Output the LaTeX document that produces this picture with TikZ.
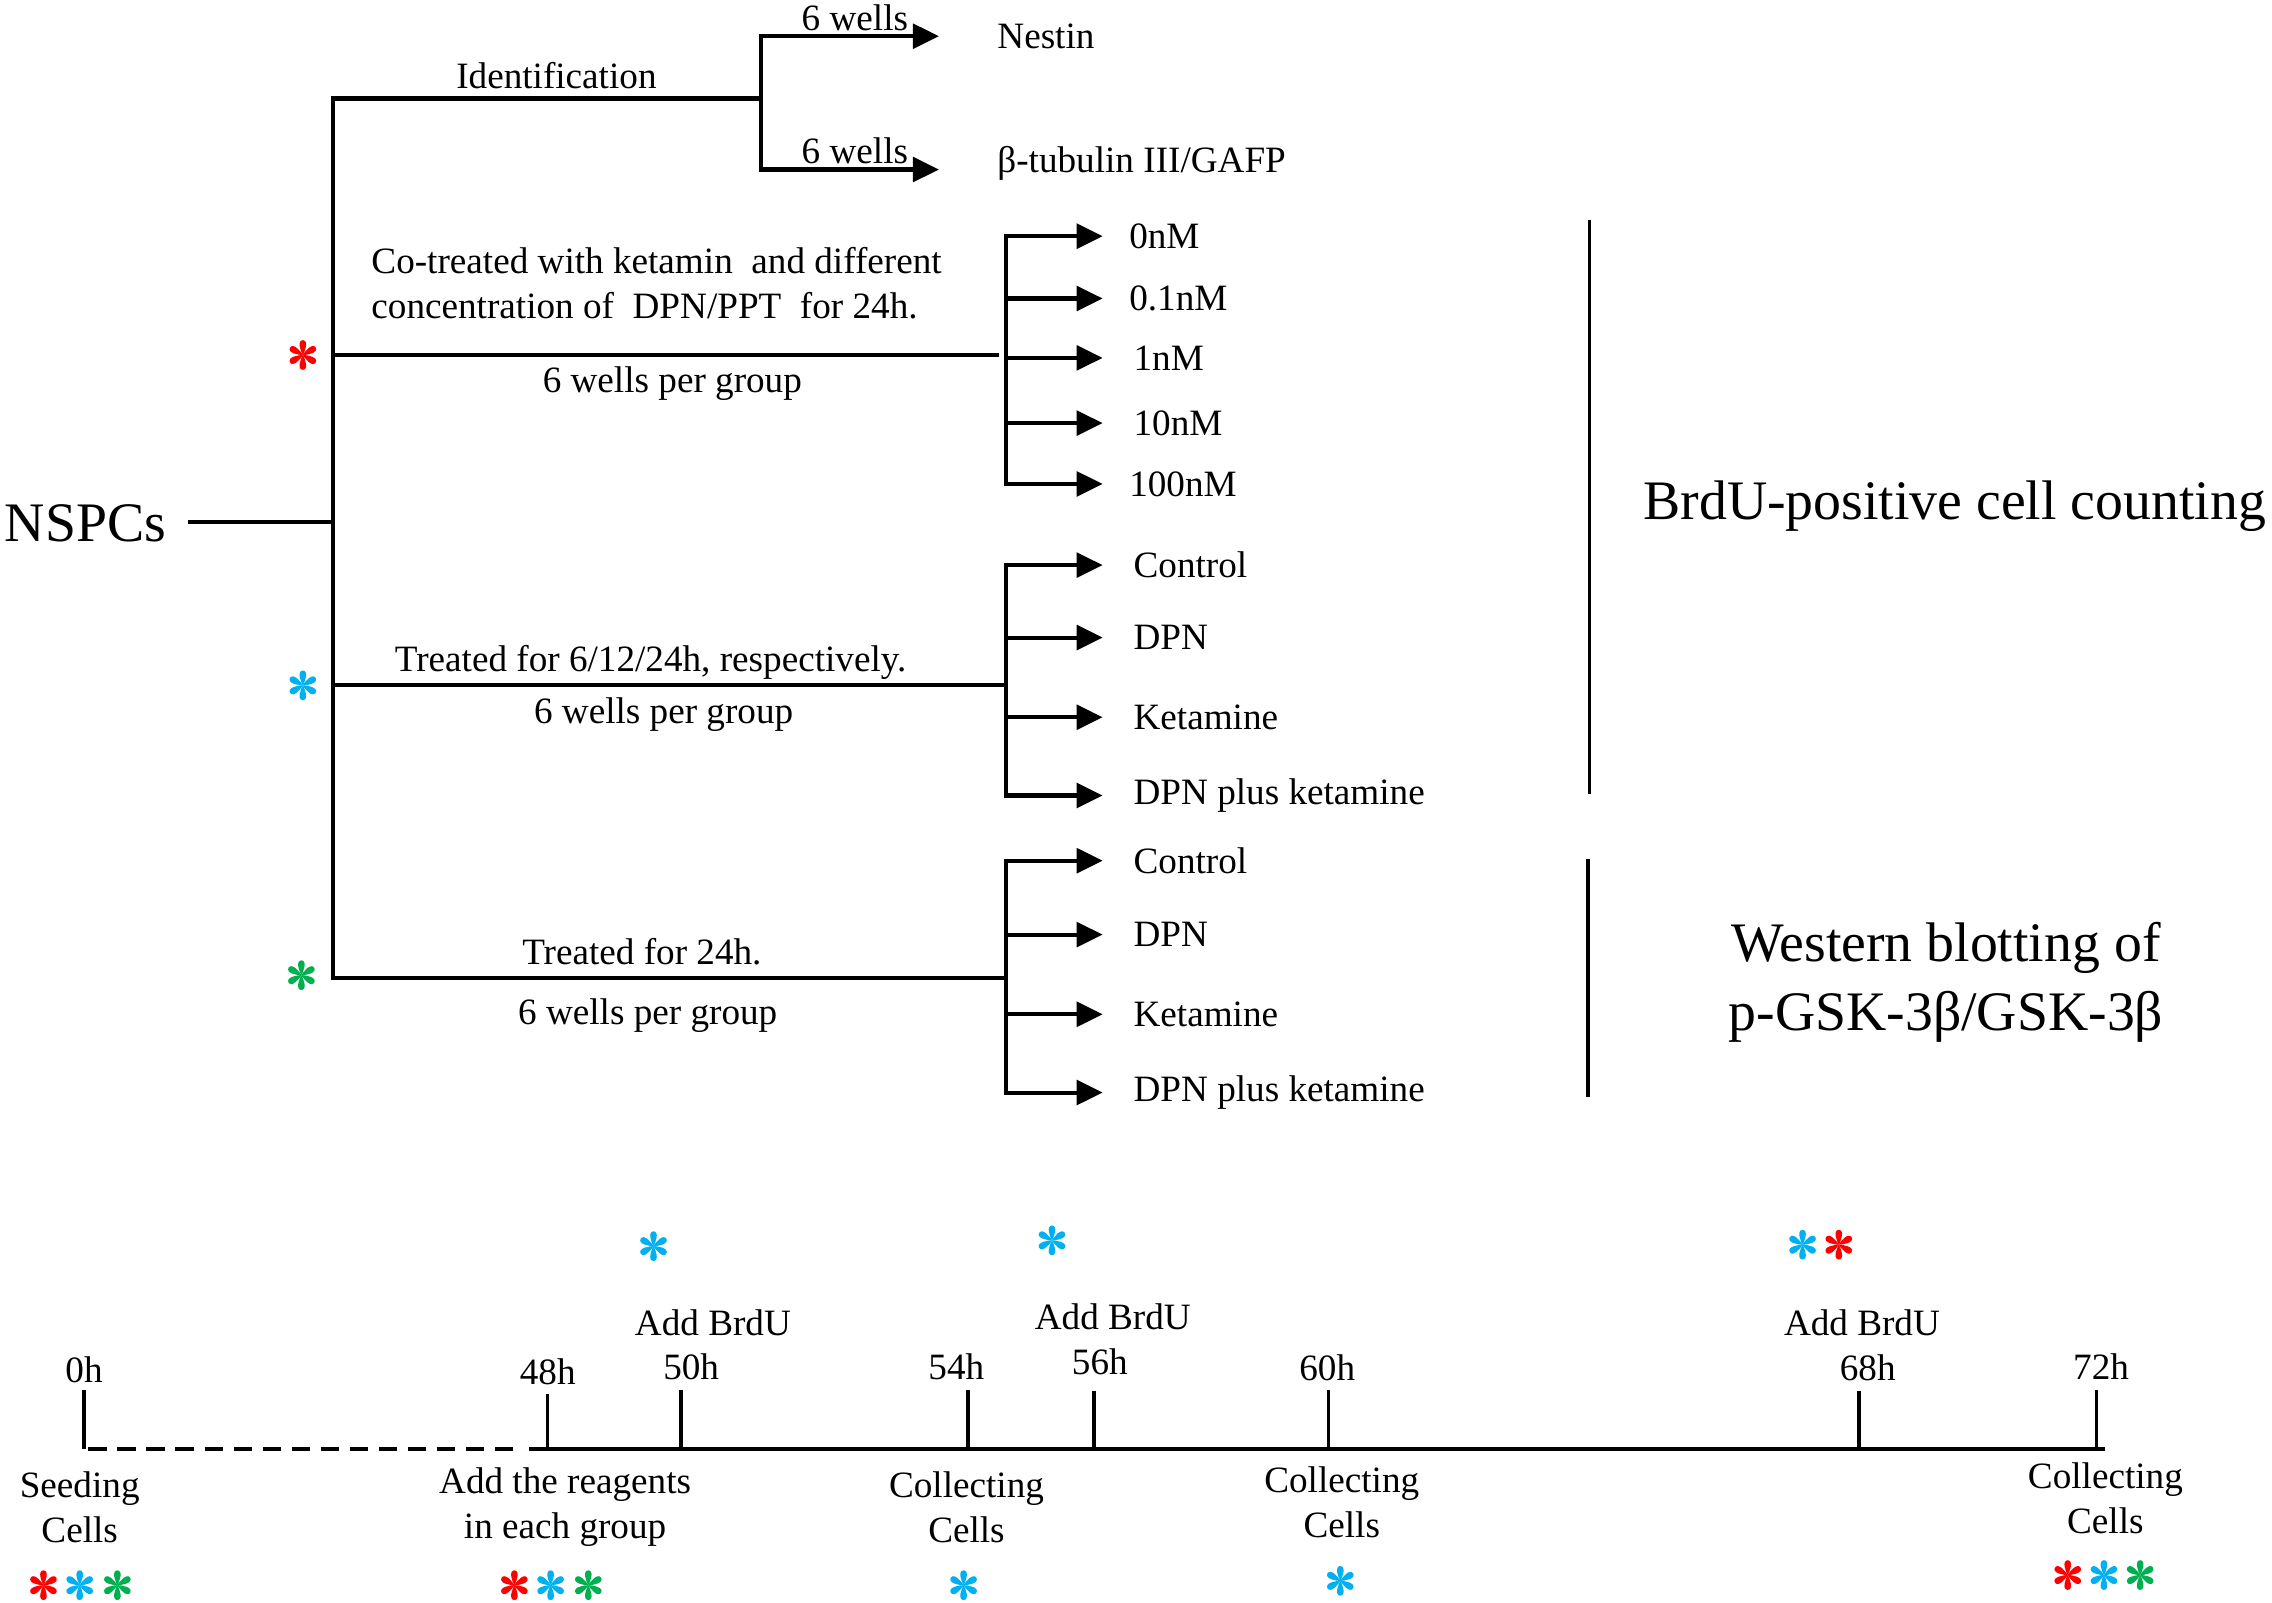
\documentclass[tikz,border=0pt]{standalone}
\usepackage{fontspec}
\setmainfont{Liberation Serif}
\usetikzlibrary{arrows.meta}
\definecolor{astred}{HTML}{FF0000}
\definecolor{astblue}{HTML}{00B0F0}
\definecolor{astgreen}{HTML}{00B050}
\newcommand{\smalltxt}{\fontsize{14.6}{17.6}\selectfont}
\newcommand{\bigtxt}{\fontsize{21.9}{27.2}\selectfont}
\tikzset{
	tree/.style={line width=1.6pt, line cap=rect},
	arr/.style={line width=1.6pt, -{Triangle[length=0.36cm, width=0.34cm]}},
	lbl/.style={font=\smalltxt, inner sep=0pt},
	tick/.style={line width=1.3pt},
	petals/.pic={
		\foreach \a in {0,60,...,300}
			\fill[rotate=\a] (0,0) .. controls (-0.03,0.05) and (-0.085,0.2) .. (0,0.205) .. controls (0.085,0.2) and (0.03,0.05) .. (0,0);
	},
}
\begin{document}
\begin{tikzpicture}
	\useasboundingbox (0,0) rectangle (31.36,-22.12);
	% tree
	\node[font=\bigtxt, inner sep=0pt] (nspcs) at (1.18,-7.22) {NSPCs};
	\coordinate (root) at (4.6,-7.2);
	\coordinate (br1) at (4.6,-1.36);
	\coordinate (br2) at (4.6,-4.9);
	\coordinate (br3) at (4.6,-9.46);
	\coordinate (br4) at (4.6,-13.5);
	\draw[tree] ([xshift=0.32cm]nspcs.east |- root) -- (root);
	\draw[tree] (br1) -- (br4);
	% identification
	\coordinate (id) at (10.5,-1.36);
	\coordinate (idtop) at (10.5,-0.5);
	\coordinate (idbot) at (10.5,-2.34);
	\coordinate (tipid) at (12.96,0);
	\draw[tree] (br1) -- (id);
	\draw[tree] (idtop) -- (idbot);
	\node[lbl] (ident) at (7.68,-1.04) {Identification};
	\node[lbl] (w6a) at (11.8,-0.24) {6 wells};
	\node[lbl] (w6b) at (11.8,-2.08) {6 wells};
	\node[lbl, anchor=west] (nestin) at (13.76,-0.5) {Nestin};
	\node[lbl, anchor=west] (tubulin) at (13.76,-2.26) {β-tubulin III/GAFP};
	\draw[arr] (idtop) -- (idtop -| tipid);
	\draw[arr] (idbot) -- (idbot -| tipid);
	% concentrations
	\coordinate (sub2) at (13.88,-4.9);
	\coordinate (tip) at (15.22,0);
	\draw[tree] (br2) -- ([xshift=-0.12cm]sub2);
	\pic[astred] at (4.18,-4.9) {petals};
	\node[lbl, anchor=west, align=left] (cotreat) at (5.12,-3.91) {Co-treated with ketamin~ and different\\concentration of~ DPN/PPT~ for 24h.};
	\node[lbl] (wpg1) at (9.28,-5.3) {6 wells per group};
	\node[lbl, anchor=west] (n0) at (15.58,-3.26) {0nM};
	\node[lbl, anchor=west] (n01) at (15.58,-4.12) {0.1nM};
	\node[lbl, anchor=west] (n1) at (15.64,-4.94) {1nM};
	\node[lbl, anchor=west] (n10) at (15.64,-5.84) {10nM};
	\node[lbl, anchor=west] (n100) at (15.58,-6.68) {100nM};
	\draw[tree] (sub2 |- n0) -- (sub2 |- n100);
	\draw[arr] (sub2 |- n0) -- (tip |- n0);
	\draw[arr] (sub2 |- n01) -- (tip |- n01);
	\draw[arr] (sub2 |- n1) -- (tip |- n1);
	\draw[arr] (sub2 |- n10) -- (tip |- n10);
	\draw[arr] (sub2 |- n100) -- (tip |- n100);
	% time course
	\coordinate (sub3) at (13.88,-9.46);
	\draw[tree] (br3) -- (sub3);
	\pic[astblue] at (4.18,-9.46) {petals};
	\node[lbl] (treat1) at (8.98,-9.14) {Treated for 6/12/24h, respectively.};
	\node[lbl] (wpg2) at (9.16,-9.86) {6 wells per group};
	\node[lbl, anchor=west] (ctrlA) at (15.64,-7.8) {Control};
	\node[lbl, anchor=west] (dpnA) at (15.64,-8.8) {DPN};
	\node[lbl, anchor=west] (ketA) at (15.64,-9.9) {Ketamine};
	\node[lbl, anchor=west] (dpnketA) at (15.64,-10.98) {DPN plus ketamine};
	\draw[tree] (sub3 |- ctrlA) -- (sub3 |- dpnketA);
	\draw[arr] (sub3 |- ctrlA) -- (tip |- ctrlA);
	\draw[arr] (sub3 |- dpnA) -- (tip |- dpnA);
	\draw[arr] (sub3 |- ketA) -- (tip |- ketA);
	\draw[arr] (sub3 |- dpnketA) -- (tip |- dpnketA);
	% western blot
	\coordinate (sub4) at (13.88,-13.5);
	\draw[tree] (br4) -- (sub4);
	\pic[astgreen] at (4.16,-13.46) {petals};
	\node[lbl] (treat2) at (8.86,-13.14) {Treated for 24h.};
	\node[lbl] (wpg3) at (8.94,-14.02) {6 wells per group};
	\node[lbl, anchor=west] (ctrlB) at (15.64,-11.88) {Control};
	\node[lbl, anchor=west] (dpnB) at (15.64,-12.9) {DPN};
	\node[lbl, anchor=west] (ketB) at (15.64,-14.0) {Ketamine};
	\node[lbl, anchor=west] (dpnketB) at (15.64,-15.08) {DPN plus ketamine};
	\draw[tree] (sub4 |- ctrlB) -- (sub4 |- dpnketB);
	\draw[arr] (sub4 |- ctrlB) -- (tip |- ctrlB);
	\draw[arr] (sub4 |- dpnB) -- (tip |- dpnB);
	\draw[arr] (sub4 |- ketB) -- (tip |- ketB);
	\draw[arr] (sub4 |- dpnketB) -- (tip |- dpnketB);
	% assays
	\coordinate (bar1top) at (21.94,-3.04);
	\coordinate (bar1bot) at (21.94,-10.96);
	\coordinate (bar2top) at (21.92,-11.86);
	\coordinate (bar2bot) at (21.92,-15.14);
	\draw[line width=1.4pt] (bar1top) -- (bar1bot);
	\draw[line width=1.4pt] (bar2top) -- (bar2bot);
	\node[font=\bigtxt, inner sep=0pt] (brdu) at (26.98,-6.98) {BrdU-positive cell counting};
	\node[font=\bigtxt, inner sep=0pt, align=center] (western) at (26.86,-13.56) {Western blotting of\\p-GSK-3β/GSK-3β};
	% timeline
	\coordinate (t0) at (1.16,-20);
	\coordinate (t48) at (7.56,-20);
	\coordinate (t50) at (9.4,-20);
	\coordinate (t54) at (13.36,-20);
	\coordinate (t56) at (15.1,-20);
	\coordinate (t60) at (18.34,-20);
	\coordinate (t68) at (25.66,-20);
	\coordinate (t72) at (28.94,-20);
	\coordinate (tend) at (29.06,-20);
	\draw[line width=1.9pt, dash pattern=on 7.2pt off 4.2pt] ([xshift=0.06cm]t0) -- ([xshift=-0.46cm]t48);
	\draw[line width=1.9pt] ([xshift=-0.26cm]t48) -- (tend);
	\draw[tick] (t0) -- ++(0,0.82);
	\draw[tick] (t48) -- ++(0,0.76);
	\draw[tick] (t50) -- ++(0,0.82);
	\draw[tick] (t54) -- ++(0,0.82);
	\draw[tick] (t56) -- ++(0,0.8);
	\draw[tick] (t60) -- ++(0,0.82);
	\draw[tick] (t68) -- ++(0,0.8);
	\draw[tick] (t72) -- ++(0,0.82);
	\node[lbl] (h0) at (1.16,-18.9) {0h};
	\node[lbl] (h48) at (7.56,-18.94) {48h};
	\node[lbl] (h50) at (9.54,-18.86) {50h};
	\node[lbl] (h54) at (13.2,-18.86) {54h};
	\node[lbl] (h56) at (15.18,-18.8) {56h};
	\node[lbl] (h60) at (18.32,-18.88) {60h};
	\node[lbl] (h68) at (25.78,-18.88) {68h};
	\node[lbl] (h72) at (29.0,-18.86) {72h};
	\node[lbl] (addA) at (9.84,-18.26) {Add BrdU};
	\node[lbl] (addB) at (15.36,-18.18) {Add BrdU};
	\node[lbl] (addC) at (25.7,-18.26) {Add BrdU};
	\node[lbl, align=center] (seed) at (1.1,-20.8) {Seeding\\Cells};
	\node[lbl, align=center] (reag) at (7.8,-20.8) {Add the reagents\\in each group};
	\node[lbl, align=center] (collA) at (13.34,-20.8) {Collecting\\Cells};
	\node[lbl, align=center] (collB) at (18.52,-20.74) {Collecting\\Cells};
	\node[lbl, align=center] (collC) at (29.06,-20.68) {Collecting\\Cells};
	% group marks
	\pic[astblue] at (9.02,-17.2) {petals};
	\pic[astblue] at (14.52,-17.12) {petals};
	\pic[astblue] at (24.88,-17.18) {petals};
	\pic[astred] at (25.38,-17.18) {petals};
	\pic[astred] at (0.6,-21.88) {petals};
	\pic[astblue] at (1.1,-21.88) {petals};
	\pic[astgreen] at (1.62,-21.88) {petals};
	\pic[astred] at (7.1,-21.88) {petals};
	\pic[astblue] at (7.6,-21.88) {petals};
	\pic[astgreen] at (8.12,-21.88) {petals};
	\pic[astblue] at (13.3,-21.88) {petals};
	\pic[astblue] at (18.5,-21.82) {petals};
	\pic[astred] at (28.54,-21.74) {petals};
	\pic[astblue] at (29.04,-21.74) {petals};
	\pic[astgreen] at (29.54,-21.74) {petals};
\end{tikzpicture}
\end{document}
